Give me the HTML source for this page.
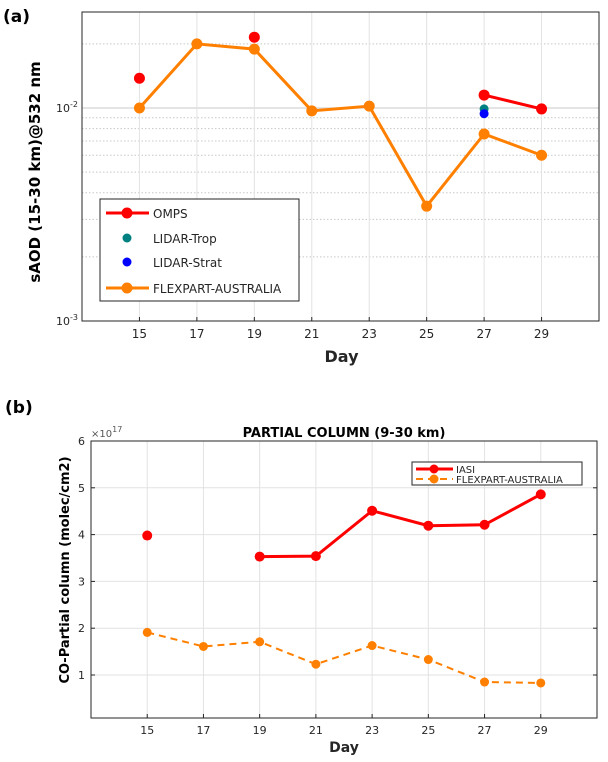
<!DOCTYPE html>
<html><head><meta charset="utf-8">
<style>
html,body{margin:0;padding:0;background:#fff;width:608px;height:762px;overflow:hidden}
svg text{font-family:"DejaVu Sans","Liberation Sans",sans-serif}
</style></head>
<body>
<svg id="chart" width="608" height="762" viewBox="0 0 608 762" xmlns="http://www.w3.org/2000/svg">
<g id="pa"></g>
<g id="pb"></g>
</svg>
<script>
const days=[15,17,19,21,23,25,27,29];
const ompsDays=[15,19,27,29];
const ompsVals=[0.0138,0.0215,0.0115,0.0099];
const flexA=[0.0100,0.0200,0.0189,0.0097,0.0102,0.00346,0.00755,0.0060];
const lidarTropDay=[27], lidarTropVal=[0.0099];
const lidarStratDay=[27], lidarStratVal=[0.0094];
const iasiVals=[3.98,null,3.53,3.54,4.51,4.19,4.21,4.86];
const flexB=[1.91,1.61,1.71,1.23,1.63,1.33,0.85,0.83];
const yTicksB=[1,2,3,4,5,6];

const NS="http://www.w3.org/2000/svg";
function mk(p,tag,at,txt){const e=document.createElementNS(NS,tag);for(const k in at)e.setAttribute(k,at[k]);if(txt!=null)e.textContent=txt;p.appendChild(e);return e;}
const RED="#ff0000",ORG="#ff8000";

// ---------- Panel A ----------
const A=document.getElementById('pa');
const aL=82,aR=599,aT=12,aB=321;
const xa=d=>aL+(d-13)/(31-13)*(aR-aL);
const ya=v=>108-(Math.log10(v)+2)*213;
let t=mk(A,'text',{x:3,y:22,'font-size':17,'font-weight':'bold','font-family':'Liberation Sans'},'(a)');


// minor grid
for(let e=-3;e<=-2;e++){for(let m=2;m<=9;m++){const v=m*Math.pow(10,e);const y=ya(v);if(y<aT)continue;
 const l=mk(A,'line',{x1:aL,x2:aR,y1:y,y2:y,stroke:'#c8c8c8','stroke-dasharray':'1.5,2','stroke-width':1});
 
 }}
{const l=mk(A,'line',{x1:aL,x2:aR,y1:ya(0.01),y2:ya(0.01),stroke:'#dcdcdc','stroke-width':1.5});

}
days.forEach(d=>{const l=mk(A,'line',{x1:xa(d),x2:xa(d),y1:aT,y2:aB,stroke:'#e2e2e2','stroke-width':1});


const tx=mk(A,'text',{x:xa(d),y:aB+17,'text-anchor':'middle','font-size':12,fill:'#262626'},d);


mk(A,'line',{x1:xa(d),x2:xa(d),y1:aB,y2:aB-4,stroke:'#262626'});});
[[0.01,'-2'],[0.001,'-3']].forEach(([v,ex])=>{const tx=mk(A,'text',{x:aL-4,y:ya(v)+4,'text-anchor':'end','font-size':11,fill:'#262626'});


tx.innerHTML='10<tspan dy="-5" font-size="8">'+ex+'</tspan>';});
{const r=mk(A,'rect',{x:aL,y:aT,width:aR-aL,height:aB-aT,fill:'none',stroke:'#262626','stroke-width':1});

}
// flexpart line
{const p=mk(A,'polyline',{points:days.map((d,i)=>xa(d)+','+ya(flexA[i])).join(' '),fill:'none',stroke:ORG,'stroke-width':3});

}
days.forEach((d,i)=>{const c=mk(A,'circle',{cx:xa(d),cy:ya(flexA[i]),r:5.5,fill:ORG});

});
// omps: connected only 27-29
{const p=mk(A,'polyline',{points:ompsDays.slice(2).map((d,i)=>xa(d)+','+ya(ompsVals[i+2])).join(' '),fill:'none',stroke:RED,'stroke-width':3});

}
ompsDays.forEach((d,i)=>{const c=mk(A,'circle',{cx:xa(d),cy:ya(ompsVals[i]),r:5.5,fill:RED});

});
lidarTropDay.forEach((d,i)=>{const c=mk(A,'circle',{cx:xa(d),cy:ya(lidarTropVal[i]),r:4.5,fill:'#008080'});

});
lidarStratDay.forEach((d,i)=>{const c=mk(A,'circle',{cx:xa(d),cy:ya(lidarStratVal[i]),r:4.5,fill:'#0000ff'});

});
// legend A
{const g=mk(A,'g',{});


mk(g,'rect',{x:100,y:199,width:199,height:102,fill:'#fff',stroke:'#262626'});
const items=[['OMPS',RED,true,5.5],['LIDAR-Trop','#008080',false,4.5],['LIDAR-Strat','#0000ff',false,4.5],['FLEXPART-AUSTRALIA',ORG,true,5.5]];
const ys=[213,238,262,288];
items.forEach((it,i)=>{const e=mk(g,'g',{});


if(it[2])mk(e,'line',{x1:106,x2:149,y1:ys[i],y2:ys[i],stroke:it[1],'stroke-width':3});
mk(e,'circle',{cx:127,cy:ys[i],r:it[3],fill:it[1]});
mk(e,'text',{x:153,y:ys[i]+5,'font-size':12,fill:'#262626'},it[0]);});}
{const tx=mk(A,'text',{x:aL+(aR-aL)/2+1,y:362,'text-anchor':'middle','font-size':16,'font-weight':'bold',fill:'#262626'},'Day');


const ty=mk(A,'text',{x:0,y:0,transform:'translate(40,172) rotate(-90)','text-anchor':'middle','font-size':15,'font-weight':'bold',fill:'#000'},'sAOD (15-30 km)@532 nm');

}

// ---------- Panel B ----------
const B=document.getElementById('pb');
const bL=91,bR=597,bT=441,bB=718;
const xb=d=>bL+(d-13)/(31-13)*(bR-bL);
const yb=v=>675-(v-1)*46.8;
t=mk(B,'text',{x:5,y:413,'font-size':17,'font-weight':'bold','font-family':'Liberation Sans'},'(b)');


yTicksB.forEach(v=>{const l=mk(B,'line',{x1:bL,x2:bR,y1:yb(v),y2:yb(v),stroke:'#e2e2e2','stroke-width':1});


mk(B,'line',{x1:bL,x2:bL+4,y1:yb(v),y2:yb(v),stroke:'#262626'});
mk(B,'line',{x1:bR,x2:bR-4,y1:yb(v),y2:yb(v),stroke:'#262626'});
const tx=mk(B,'text',{x:bL-6,y:yb(v)+4,'text-anchor':'end','font-size':11,fill:'#262626'},v);

});
days.forEach(d=>{const l=mk(B,'line',{x1:xb(d),x2:xb(d),y1:bT,y2:bB,stroke:'#e2e2e2','stroke-width':1});


mk(B,'line',{x1:xb(d),x2:xb(d),y1:bB,y2:bB-4,stroke:'#262626'});
const tx=mk(B,'text',{x:xb(d),y:bB+16,'text-anchor':'middle','font-size':11,fill:'#262626'},d);

});
{const r=mk(B,'rect',{x:bL,y:bT,width:bR-bL,height:bB-bT,fill:'none',stroke:'#262626','stroke-width':1});


const ex=mk(B,'text',{x:91,y:437,'font-size':10,fill:'#555'});


ex.innerHTML='×10<tspan dy="-5" font-size="8">17</tspan>';
const ti=mk(B,'text',{x:344,y:437,'text-anchor':'middle','font-size':13,'font-weight':'bold',fill:'#000'},'PARTIAL COLUMN (9-30 km)');

}
// flexpart dashed
{const p=mk(B,'polyline',{points:days.map((d,i)=>xb(d)+','+yb(flexB[i])).join(' '),fill:'none',stroke:ORG,'stroke-width':2,'stroke-dasharray':'7,5'});

}
days.forEach((d,i)=>{const c=mk(B,'circle',{cx:xb(d),cy:yb(flexB[i]),r:4.5,fill:ORG});

});
// IASI: segments between consecutive non-null
{let pts=[];const segs=[];days.forEach((d,i)=>{if(iasiVals[i]==null){if(pts.length)segs.push(pts);pts=[];}else pts.push(xb(d)+','+yb(iasiVals[i]));});if(pts.length)segs.push(pts);
segs.forEach(s=>{if(s.length>1){const p=mk(B,'polyline',{points:s.join(' '),fill:'none',stroke:RED,'stroke-width':3});

}});}
days.forEach((d,i)=>{if(iasiVals[i]==null)return;const c=mk(B,'circle',{cx:xb(d),cy:yb(iasiVals[i]),r:5,fill:RED});

});
// legend B
{const g=mk(B,'g',{});


mk(g,'rect',{x:412,y:462,width:170,height:23,fill:'#fff',stroke:'#262626'});
const e1=mk(g,'g',{});


mk(e1,'line',{x1:416,x2:453,y1:469,y2:469,stroke:RED,'stroke-width':3});
mk(e1,'circle',{cx:434,cy:469,r:4.5,fill:RED});
mk(e1,'text',{x:456,y:473,'font-size':10,fill:'#262626'},'IASI');
const e2=mk(g,'g',{});


mk(e2,'line',{x1:416,x2:453,y1:479,y2:479,stroke:ORG,'stroke-width':2,'stroke-dasharray':'7,5'});
mk(e2,'circle',{cx:434,cy:479,r:4.5,fill:ORG});
mk(e2,'text',{x:456,y:483,'font-size':10,fill:'#262626'},'FLEXPART-AUSTRALIA');}
{const tx=mk(B,'text',{x:344,y:752,'text-anchor':'middle','font-size':14,'font-weight':'bold',fill:'#262626'},'Day');


const ty=mk(B,'text',{x:0,y:0,transform:'translate(69,570) rotate(-90)','text-anchor':'middle','font-size':13,'font-weight':'bold',fill:'#000'},'CO-Partial column (molec/cm2)');

}
</script>
</body></html>
